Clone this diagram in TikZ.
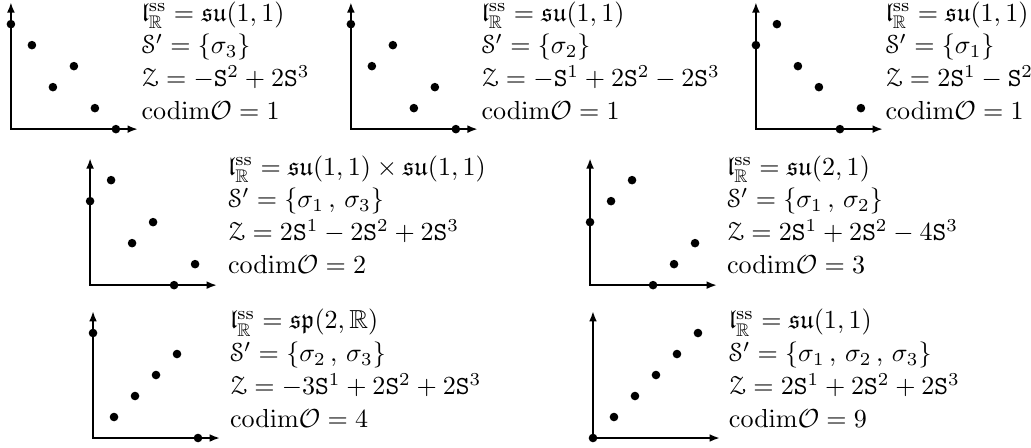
\documentclass[tikz,border=0pt]{standalone}
\usepackage{amsmath,amssymb}
\usepackage[mathscr]{eucal}
\usetikzlibrary{arrows.meta}
\renewcommand{\arraystretch}{1.05}
\begin{document}
\begin{tikzpicture}[
			x=0.283cm, y=0.283cm,
			asse/.style={line width=1pt, line join=miter, black,
				{Latex[length=4pt,width=3pt]}-{Latex[length=4pt,width=3pt]}},
			punto/.style={circle, fill=black, draw=none,
				inner sep=0pt, minimum size=3.3pt},
			testo/.style={anchor=base west, inner sep=0pt},
			]
			\useasboundingbox (0,0) rectangle (49.1,21.29);
			
			% prima riga
			\begin{scope}[shift={(0.52,15.14)}]
			\coordinate (O1) at (0,0);
			\coordinate (X1) at (6.05,0);
			\coordinate (Y1) at (0,6.05);
			\draw[asse](Y1)--(O1)--(X1);
			\node[punto] (a1) at (0,5){}; \node[punto] (b1) at (1,4){};
			\node[punto] (c1) at (2,2){}; \node[punto] (d1) at (3,3){};
			\node[punto] (e1) at (4,1){}; \node[punto] (f1) at (5,0){};
			\node[testo] (t1) at (6.2,0.45)
			{$\begin{array}[b]{@{}l@{}}
				\mathfrak{l}^{\mathrm{ss}}_{\mathbb{R}}=\mathfrak{su}(1,1)\\
				\mathscr{S}'=\{\sigma_3\}\\
				\mathscr{Z}=-\mathtt{S}^2+2\mathtt{S}^3\\
				\mathrm{codim}\mathcal{O}=1
			\end{array}$};
			\end{scope}
			
			\begin{scope}[shift={(16.71,15.14)}]
			\coordinate (O2) at (0,0);
			\coordinate (X2) at (6.05,0);
			\coordinate (Y2) at (0,6.05);
			\draw[asse](Y2)--(O2)--(X2);
			\node[punto] (a2) at (0,5){}; \node[punto] (b2) at (1,3){};
			\node[punto] (c2) at (2,4){}; \node[punto] (d2) at (3,1){};
			\node[punto] (e2) at (4,2){}; \node[punto] (f2) at (5,0){};
			\node[testo] (t2) at (6.2,0.45)
			{$\begin{array}[b]{@{}l@{}}
				\mathfrak{l}^{\mathrm{ss}}_{\mathbb{R}}=\mathfrak{su}(1,1)\\
				\mathscr{S}'=\{\sigma_2\}\\
				\mathscr{Z}=-\mathtt{S}^1+2\mathtt{S}^2-2\mathtt{S}^3\\
				\mathrm{codim}\mathcal{O}=1
			\end{array}$};
			\end{scope}
			
			\begin{scope}[shift={(36.0,15.14)}]
			\coordinate (O3) at (0,0);
			\coordinate (X3) at (6.05,0);
			\coordinate (Y3) at (0,6.05);
			\draw[asse](Y3)--(O3)--(X3);
			\node[punto] (a3) at (0,4){}; \node[punto] (b3) at (1,5){};
			\node[punto] (c3) at (2,3){}; \node[punto] (d3) at (3,2){};
			\node[punto] (e3) at (4,0){}; \node[punto] (f3) at (5,1){};
			\node[testo] (t3) at (6.15,0.45)
			{$\begin{array}[b]{@{}l@{}}
				\mathfrak{l}^{\mathrm{ss}}_{\mathbb{R}}=\mathfrak{su}(1,1)\\
				\mathscr{S}'=\{\sigma_1\}\\
				\mathscr{Z}=2\mathtt{S}^1-\mathtt{S}^2\\
				\mathrm{codim}\mathcal{O}=1
			\end{array}$};
			\end{scope}
			
			% seconda riga
			\begin{scope}[shift={(4.29,7.71)}]
			\coordinate (O4) at (0,0);
			\coordinate (X4) at (6.05,0);
			\coordinate (Y4) at (0,6.05);
			\draw[asse](Y4)--(O4)--(X4);
			\node[punto] (a4) at (0,4){}; \node[punto] (b4) at (1,5){};
			\node[punto] (c4) at (2,2){}; \node[punto] (d4) at (3,3){};
			\node[punto] (e4) at (4,0){}; \node[punto] (f4) at (5,1){};
			\node[testo] (t4) at (6.55,0.55)
			{$\begin{array}[b]{@{}l@{}}
				\mathfrak{l}^{\mathrm{ss}}_{\mathbb{R}}=\mathfrak{su}(1,1)\times\mathfrak{su}(1,1)\\
				\mathscr{S}'=\{\sigma_1\,,\,\sigma_3\}\\
				\mathscr{Z}=2\mathtt{S}^1-2\mathtt{S}^2+2\mathtt{S}^3\\
				\mathrm{codim}\mathcal{O}=2
			\end{array}$};
			\end{scope}
			
			\begin{scope}[shift={(28.10,7.71)}]
			\coordinate (O5) at (0,0);
			\coordinate (X5) at (6.05,0);
			\coordinate (Y5) at (0,6.05);
			\draw[asse](Y5)--(O5)--(X5);
			\node[punto] (a5) at (0,3){}; \node[punto] (b5) at (1,4){};
			\node[punto] (c5) at (2,5){}; \node[punto] (d5) at (3,0){};
			\node[punto] (e5) at (4,1){}; \node[punto] (f5) at (5,2){};
			\node[testo] (t5) at (6.5,0.55)
			{$\begin{array}[b]{@{}l@{}}
				\mathfrak{l}^{\mathrm{ss}}_{\mathbb{R}}=\mathfrak{su}(2,1)\\
				\mathscr{S}'=\{\sigma_1\,,\,\sigma_2\}\\
				\mathscr{Z}=2\mathtt{S}^1+2\mathtt{S}^2-4\mathtt{S}^3\\
				\mathrm{codim}\mathcal{O}=3
			\end{array}$};
			\end{scope}
			
			% terza riga
			\begin{scope}[shift={(4.43,0.43)}]
			\coordinate (O6) at (0,0);
			\coordinate (X6) at (6.05,0);
			\coordinate (Y6) at (0,6.05);
			\draw[asse](Y6)--(O6)--(X6);
			\node[punto] (a6) at (0,5){}; \node[punto] (b6) at (1,1){};
			\node[punto] (c6) at (2,2){}; \node[punto] (d6) at (3,3){};
			\node[punto] (e6) at (4,4){}; \node[punto] (f6) at (5,0){};
			\node[testo] (t6) at (6.5,0.5)
			{$\begin{array}[b]{@{}l@{}}
				\mathfrak{l}^{\mathrm{ss}}_{\mathbb{R}}=\mathfrak{sp}(2,\mathbb{R})\\
				\mathscr{S}'=\{\sigma_2\,,\,\sigma_3\}\\
				\mathscr{Z}=-3\mathtt{S}^1+2\mathtt{S}^2+2\mathtt{S}^3\\
				\mathrm{codim}\mathcal{O}=4
			\end{array}$};
			\end{scope}
			
			\begin{scope}[shift={(28.24,0.43)}]
			\coordinate (O7) at (0,0);
			\coordinate (X7) at (6.05,0);
			\coordinate (Y7) at (0,6.05);
			\draw[asse](Y7)--(O7)--(X7);
			\node[punto] (a7) at (0,0){}; \node[punto] (b7) at (1,1){};
			\node[punto] (c7) at (2,2){}; \node[punto] (d7) at (3,3){};
			\node[punto] (e7) at (4,4){}; \node[punto] (f7) at (5,5){};
			\node[testo] (t7) at (6.45,0.5)
			{$\begin{array}[b]{@{}l@{}}
				\mathfrak{l}^{\mathrm{ss}}_{\mathbb{R}}=\mathfrak{su}(1,1)\\
				\mathscr{S}'=\{\sigma_1\,,\,\sigma_2\,,\,\sigma_3\}\\
				\mathscr{Z}=2\mathtt{S}^1+2\mathtt{S}^2+2\mathtt{S}^3\\
				\mathrm{codim}\mathcal{O}=9
			\end{array}$};
			\end{scope}
		\end{tikzpicture}
\end{document}
